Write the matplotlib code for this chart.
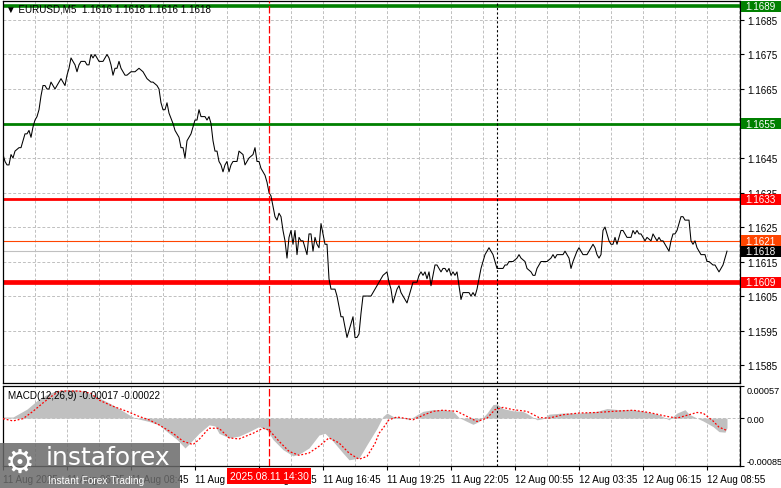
import matplotlib

matplotlib.use("Agg")
from matplotlib import pyplot as plt
from matplotlib import transforms
from matplotlib.patches import Rectangle

plt.rcParams["font.family"] = ["Liberation Sans", "DejaVu Sans"]

symbol_title = "\u25bc EURUSD,M5  1.1616 1.1618 1.1616 1.1618"
macd_title = "MACD(12,26,9) -0.00017 -0.00022"

# M5 closes, bar 0 = 11 Aug 03:25
price_bar = [
    0, 1, 2, 3, 4, 5, 6, 8, 9, 10, 11, 12, 13, 14, 15, 16, 17, 18, 19, 20,
    21, 22, 23, 24, 25, 26, 27, 28, 29, 30, 31, 32, 33, 34, 35, 36, 37, 38, 39, 41,
    42, 43, 44, 45, 46, 47, 48, 50, 51, 52, 53, 54, 55, 56, 57, 58, 59, 61, 62, 64,
    66, 68, 70, 72, 74, 75, 77, 78, 79, 80, 81, 82, 83, 85, 86, 88, 89, 90, 91, 92,
    93, 94, 95, 96, 97, 98, 99, 101, 102, 103, 104, 105, 106, 107, 108, 109, 110, 111, 112, 113,
    114, 115, 117, 118, 120, 121, 122, 123, 125, 126, 127, 128, 129, 130, 131, 132, 133, 134, 135, 136,
    137, 138, 139, 140, 141, 142, 143, 144, 145, 146, 147, 148, 149, 150, 151, 152, 153, 154, 155, 156,
    157, 158, 159, 160, 161, 162, 163, 164, 165, 166, 167, 168, 169, 170, 171, 172, 173, 174, 175, 176,
    177, 178, 179, 180, 181, 182, 183, 184, 185, 187, 188, 189, 190, 192, 193, 194, 195, 196, 197, 198,
    199, 201, 202, 203, 204, 205, 207, 208, 209, 210, 211, 212, 213, 214, 215, 216, 217, 218, 219, 220,
    221, 222, 223, 224, 225, 226, 227, 228, 229, 230, 231, 232, 233, 234, 235, 236, 237, 238, 239, 240,
    241, 242, 243, 244, 245, 246, 247, 249, 250, 251, 252, 253, 254, 255, 257, 258, 259, 261, 262, 264,
    265, 266, 267, 269, 271, 272, 274, 275, 276, 277, 278, 279, 280, 281, 282, 283, 284, 285, 287, 288,
    289, 290, 291, 292, 294, 295, 296, 297, 298, 299, 300, 301, 302, 303, 304, 305, 306, 307, 308, 309,
    310, 311, 312, 314, 315, 316, 317, 318, 319, 320, 321, 322, 324, 325, 326, 327, 328, 329, 330, 331,
    332, 333, 334, 335, 336, 337, 338, 339, 340, 341, 342, 343, 344, 345, 346, 347, 348, 349, 350, 351,
    352, 353, 355, 356, 357, 358, 359, 360, 361, 362,
]
price_close = [
    1.1646, 1.1644, 1.1643, 1.1643, 1.1646, 1.1645, 1.1647, 1.1648, 1.1648, 1.1650,
    1.1652, 1.1652, 1.1653, 1.1651, 1.1654, 1.1656, 1.1657, 1.1659, 1.1663, 1.1666,
    1.1666, 1.1665, 1.1665, 1.1667, 1.1666, 1.1665, 1.1666, 1.1667, 1.1668, 1.1667,
    1.1666, 1.1669, 1.1671, 1.1674, 1.1673, 1.1672, 1.1670, 1.1672, 1.1673, 1.1673,
    1.1672, 1.1672, 1.1675, 1.1674, 1.1675, 1.1674, 1.1673, 1.1673, 1.1674, 1.1675,
    1.1674, 1.1672, 1.1669, 1.1671, 1.1671, 1.1673, 1.1671, 1.1669, 1.1669, 1.1670,
    1.1670, 1.1671, 1.1670, 1.1668, 1.1667, 1.1667, 1.1666, 1.1665, 1.1661, 1.1659,
    1.1659, 1.1661, 1.1658, 1.1655, 1.1653, 1.1651, 1.1648, 1.1648, 1.1645, 1.1650,
    1.1651, 1.1652, 1.1654, 1.1656, 1.1656, 1.1659, 1.1657, 1.1657, 1.1656, 1.1657,
    1.1655, 1.1650, 1.1647, 1.1647, 1.1644, 1.1643, 1.1641, 1.1643, 1.1644, 1.1641,
    1.1643, 1.1644, 1.1644, 1.1647, 1.1646, 1.1643, 1.1644, 1.1645, 1.1646, 1.1648,
    1.1644, 1.1644, 1.1642, 1.1641, 1.1640, 1.1638, 1.1635, 1.1634, 1.1631, 1.1628,
    1.1627, 1.1629, 1.1628, 1.1624, 1.1621, 1.1616, 1.1622, 1.1624, 1.1620, 1.1624,
    1.1617, 1.1622, 1.1621, 1.1621, 1.1619, 1.1617, 1.1623, 1.1623, 1.1618, 1.1622,
    1.1620, 1.1619, 1.1626, 1.1623, 1.1620, 1.1620, 1.1610, 1.1607, 1.1607, 1.1607,
    1.1605, 1.1602, 1.1599, 1.1599, 1.1596, 1.1593, 1.1595, 1.1597, 1.1599, 1.1593,
    1.1593, 1.1594, 1.1600, 1.1605, 1.1605, 1.1605, 1.1605, 1.1605, 1.1606, 1.1608,
    1.1609, 1.1610, 1.1611, 1.1612, 1.1609, 1.1607, 1.1603, 1.1605, 1.1607, 1.1608,
    1.1606, 1.1604, 1.1603, 1.1605, 1.1607, 1.1609, 1.1609, 1.1611, 1.1612, 1.1611,
    1.1612, 1.1610, 1.1612, 1.1608, 1.1611, 1.1614, 1.1614, 1.1613, 1.1612, 1.1613,
    1.1613, 1.1612, 1.1613, 1.1611, 1.1612, 1.1611, 1.1612, 1.1608, 1.1604, 1.1606,
    1.1606, 1.1606, 1.1606, 1.1605, 1.1606, 1.1605, 1.1607, 1.1610, 1.1613, 1.1615,
    1.1617, 1.1618, 1.1619, 1.1618, 1.1617, 1.1615, 1.1613, 1.1613, 1.1613, 1.1614,
    1.1614, 1.1615, 1.1615, 1.1615, 1.1616, 1.1617, 1.1616, 1.1615, 1.1613, 1.1612,
    1.1611, 1.1611, 1.1613, 1.1615, 1.1615, 1.1615, 1.1616, 1.1617, 1.1616, 1.1617,
    1.1617, 1.1617, 1.1617, 1.1618, 1.1617, 1.1616, 1.1613, 1.1615, 1.1618, 1.1619,
    1.1618, 1.1617, 1.1617, 1.1617, 1.1619, 1.1620, 1.1619, 1.1617, 1.1616, 1.1617,
    1.1624, 1.1625, 1.1623, 1.1621, 1.1620, 1.1620, 1.1622, 1.1620, 1.1622, 1.1624,
    1.1624, 1.1623, 1.1622, 1.1622, 1.1624, 1.1623, 1.1624, 1.1623, 1.1623, 1.1622,
    1.1621, 1.1622, 1.1621, 1.1623, 1.1622, 1.1621, 1.1622, 1.1621, 1.1621, 1.1620,
    1.1619, 1.1618, 1.1621, 1.1623, 1.1623, 1.1624, 1.1626, 1.1628, 1.1628, 1.1627,
    1.1627, 1.1627, 1.1621, 1.1620, 1.1621, 1.1619, 1.1618, 1.1617, 1.1617, 1.1617,
    1.1615, 1.1615, 1.1614, 1.1614, 1.1613, 1.1612, 1.1613, 1.1614, 1.1616, 1.1618,
]

# MACD main line (histogram) and signal line
hist_bar = [
    0, 5, 8, 12, 15, 18, 22, 26, 32, 38, 40, 44, 48, 53, 58, 63, 66, 73, 78, 82,
    87, 91, 93, 98, 103, 106, 108, 113, 118, 123, 128, 132, 135, 140, 145, 148, 153, 158, 161, 165,
    170, 173, 178, 182, 187, 190, 192, 195, 200, 203, 207, 210, 215, 220, 225, 228, 232, 235, 238, 242,
    245, 247, 250, 255, 260, 263, 267, 270, 273, 280, 288, 297, 302, 308, 315, 322, 328, 333, 337, 341,
    343, 347, 350, 355, 358, 361, 362,
]
hist_val = [
    0.00002, 0.00002, 0.00008, 0.00016, 0.00025, 0.00034, 0.00042, 0.00048, 0.00051, 0.00050,
    0.00048, 0.00043, 0.00036, 0.00027, 0.00017, 0.00006, 0.0, -0.00006, -0.00012, -0.00024,
    -0.00038, -0.00053, -0.00046, -0.00027, -0.00012, -0.00014, -0.00027, -0.00035, -0.00032, -0.00024,
    -0.00015, -0.00021, -0.00038, -0.00056, -0.00067, -0.00064, -0.00053, -0.00030, -0.00027, -0.00041,
    -0.00062, -0.00074, -0.00071, -0.00047, -0.00018, 0.00003, 0.00009, 0.00003, 0.00001, -0.00003,
    0.00006, 0.00012, 0.00015, 0.00015, 0.00012, 0.00001, -0.00006, -0.00011, -0.00006, 0.00009,
    0.00024, 0.00025, 0.00017, 0.00013, 0.00012, 0.00006, -0.00003, -0.00001, 0.00007, 0.00009,
    0.00009, 0.00012, 0.00017, 0.00015, 0.00015, 0.00011, 0.00006, -0.00003, 0.00009, 0.00015,
    0.00007, 0.0, -0.00005, -0.00015, -0.00024, -0.00025, -0.00017,
]
signal_bar = [
    0, 5, 10, 15, 20, 24, 28, 38, 44, 48, 55, 62, 68, 73, 78, 85, 90, 95, 98, 103,
    108, 113, 118, 125, 130, 133, 138, 143, 148, 153, 158, 163, 168, 173, 178, 182, 186, 188, 190, 193,
    197, 202, 205, 210, 215, 220, 227, 232, 237, 242, 246, 250, 255, 262, 268, 273, 280, 288, 297, 305,
    315, 323, 332, 337, 342, 347, 350, 355, 358, 362,
]
signal_val = [
    -0.00001, -0.00005, -0.00001, 0.00012, 0.00027, 0.00038, 0.00048, 0.00048, 0.00044, 0.00032,
    0.00021, 0.00012, 0.00003, -0.00003, -0.00012, -0.00027, -0.00041, -0.00047, -0.00038, -0.00018,
    -0.00018, -0.00035, -0.00037, -0.00027, -0.00018, -0.00021, -0.00041, -0.00059, -0.00066, -0.00062,
    -0.00050, -0.00035, -0.00044, -0.00062, -0.00073, -0.00068, -0.00045, -0.00027, -0.00018, -0.00003,
    0.00002, -0.00001, -0.00003, 0.00005, 0.00012, 0.00014, 0.00012, 0.00003, -0.00006, 0.0,
    0.00015, 0.00019, 0.00015, 0.00012, 0.00001, 0.0, 0.00006, 0.00009, 0.00010, 0.00012,
    0.00014, 0.00010, 0.00003, 0.0, 0.00005, 0.00010, 0.00009, -0.00005, -0.00016, -0.00022,
]

level_values = [1.1689, 1.1655, 1.1633, 1.1621, 1.1609]
level_colors = ["#008000", "#008000", "#ff0000", "#ff4500", "#ff0000"]
level_widths = [2.6, 2.0, 2.0, 0.8, 3.4]
last_price = 1.1618

price_ticks = [1.1685, 1.1675, 1.1665, 1.1655, 1.1645, 1.1635, 1.1625, 1.1615, 1.1605, 1.1595, 1.1585]
macd_ticks = [0.00057, 0.0, -0.00085]
macd_tick_labels = ["0.00057", "0.00", "-0.00085"]

time_bar = [0, 32, 64, 96, 128, 160, 192, 224, 256, 288, 320, 352]
time_labels = [
    "11 Aug 2025", "11 Aug 06:05", "11 Aug 08:45", "11 Aug 11:25", "11 Aug 14:05", "11 Aug 16:45",
    "11 Aug 19:25", "11 Aug 22:05", "12 Aug 00:55", "12 Aug 03:35", "12 Aug 06:15", "12 Aug 08:55",
]
grid_bar = list(range(16, 369, 16))
marker_bar = 133
marker_label = "2025.08.11 14:30"
day_break_bar = 247

W, H = 781, 489
GRID = dict(color="#c0c0c0", linestyle=(0, (3, 2)), linewidth=0.7)
FS = 7.1

fig = plt.figure(figsize=(W / 100, H / 100), dpi=100)
ax = fig.add_axes([3 / W, 1 - 384 / H, 737 / W, 382 / H])
mx = fig.add_axes([3 / W, 1 - 467 / H, 737 / W, 80 / H])

for axis in (ax, mx):
    axis.set_xlim(0, 368.5)
    axis.yaxis.tick_right()
    axis.tick_params(axis="y", direction="out", length=3, width=0.8, pad=2, labelsize=FS)
    for spine in axis.spines.values():
        spine.set_linewidth(0.9)
    axis.set_axisbelow(True)

# main price panel
ax.set_ylim(1.15798, 1.16905)
ax.set_yticks(price_ticks)
ax.set_yticklabels([f"{v:.4f}" for v in price_ticks])
ax.set_xticks(grid_bar)
ax.tick_params(axis="x", length=0, labelbottom=False)
ax.grid(True, **GRID)

for value, color, width in zip(level_values, level_colors, level_widths):
    ax.axhline(value, color=color, linewidth=width, zorder=2)
ax.axhline(last_price, color="#c0c0c0", linewidth=0.8, zorder=2)
ax.plot(price_bar, price_close, color="black", linewidth=0.75, zorder=3)

for axis in (ax, mx):
    axis.axvline(marker_bar, color="#ff0000", linestyle=(0, (6, 2)), linewidth=0.9, zorder=4)
    axis.axvline(day_break_bar, color="black", linestyle=(0, (2, 2)), linewidth=0.8, zorder=4)

# price tags on the right scale
tag_transform = transforms.blended_transform_factory(fig.transFigure, ax.transData)
tag_half = 5.5 * 0.0001 / 3.45
for value, color in zip(level_values + [last_price], level_colors + ["black"]):
    fig.add_artist(Rectangle((741 / W, value - tag_half), 40 / W, 2 * tag_half,
                             transform=tag_transform, facecolor=color, edgecolor="none",
                             clip_on=False, zorder=8))
    fig.text(745 / W, value, f"{value:.4f}", transform=tag_transform, fontsize=FS,
             color="white", ha="left", va="center", zorder=9)

ax.text(3 / 737, 1 - 8 / 382, symbol_title, transform=ax.transAxes, fontsize=FS,
        va="center", ha="left", color="black", zorder=6)

# MACD panel
mx.set_ylim(-0.00085, 0.00057)
mx.set_yticks(macd_ticks)
mx.set_yticklabels(macd_tick_labels)
mx.tick_params(axis="y", labelsize=6.6, pad=1.5)
labels = mx.get_yticklabels()
labels[0].set_va("top")
labels[2].set_va("bottom")
mx.set_xticks(time_bar)
mx.set_xticklabels(time_labels, ha="left", fontsize=FS)
mx.set_xticks(grid_bar, minor=True)
mx.tick_params(axis="x", which="major", direction="out", length=3, width=0.8, pad=3)
mx.tick_params(axis="x", which="minor", length=0)
mx.grid(True, which="both", axis="x", **GRID)
mx.axhline(0, **GRID)

mx.fill_between(hist_bar, 0, hist_val, color="#c0c0c0", linewidth=0, zorder=2)
mx.plot(signal_bar, signal_val, color="#ff0000", linewidth=0.9, linestyle=(0, (1.5, 1.5)), zorder=3)
mx.text(5 / 737, 1 - 9 / 80, macd_title, transform=mx.transAxes, fontsize=FS,
        va="center", ha="left", color="black", zorder=6)

mx.annotate(
    marker_label,
    xy=(marker_bar, 0),
    xycoords=("data", "axes fraction"),
    xytext=(0, -10),
    textcoords="offset pixels",
    ha="center",
    va="center",
    fontsize=FS + 0.3,
    color="white",
    bbox=dict(boxstyle="square,pad=0.25", fc="#ff0000", ec="none"),
    annotation_clip=False,
    zorder=10,
)

# watermark
fig.add_artist(Rectangle((0, 0), 180 / W, 45 / H, transform=fig.transFigure,
                         facecolor="#6a6a6a", alpha=0.85, edgecolor="none", zorder=20))
fig.text(5 / W, 1 - 463 / H, "\u2699", fontsize=24, color="white", family=["DejaVu Sans"],
         va="center", ha="left", zorder=21)
fig.text(46 / W, 1 - 458 / H, "instaforex", fontsize=18, color="white", family=["DejaVu Sans"],
         va="center", ha="left", zorder=21)
fig.text(48 / W, 1 - 481 / H, "Instant Forex Trading", fontsize=7.3, color="white",
         va="center", ha="left", zorder=21)

fig.savefig("out.png", dpi=100)
plt.close(fig)
